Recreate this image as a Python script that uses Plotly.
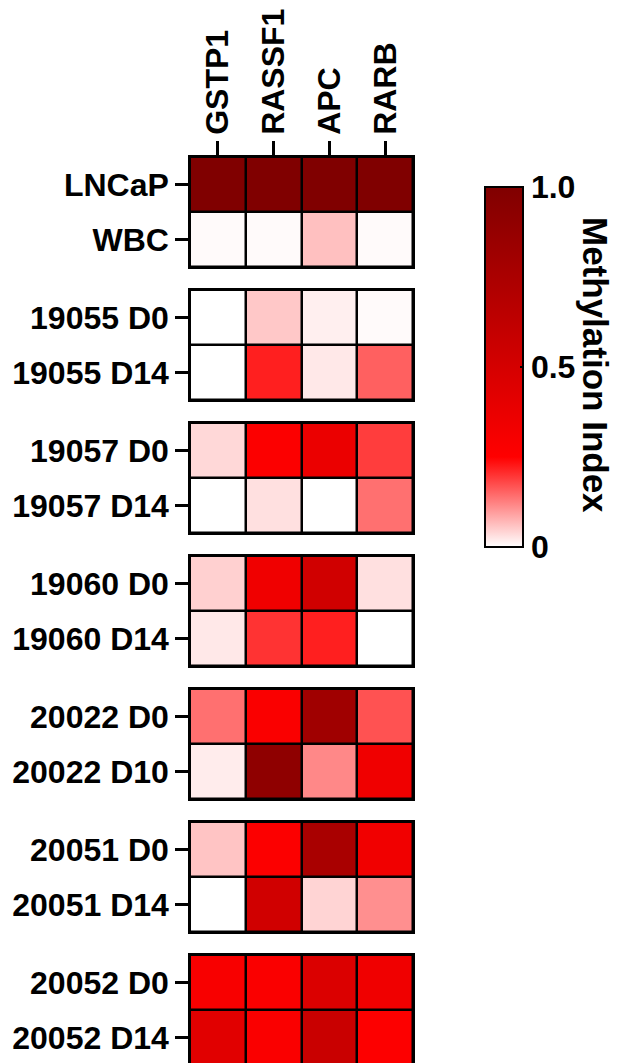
import plotly.graph_objects as go

genes = ["GSTP1", "RASSF1", "APC", "RARB"]
groups = [
    ["LNCaP", "WBC"],
    ["19055 D0", "19055 D14"],
    ["19057 D0", "19057 D14"],
    ["19060 D0", "19060 D14"],
    ["20022 D0", "20022 D10"],
    ["20051 D0", "20051 D14"],
    ["20052 D0", "20052 D14"],
]
values = [
    [[1.00, 1.00, 1.00, 1.00], [0.005, 0.005, 0.062, 0.005]],
    [[0.00, 0.054, 0.016, 0.005], [0.00, 0.22, 0.023, 0.156]],
    [[0.038, 0.27, 0.37, 0.19], [0.00, 0.03, 0.00, 0.14]],
    [[0.046, 0.34, 0.53, 0.03], [0.023, 0.20, 0.22, 0.00]],
    [[0.14, 0.28, 0.81, 0.17], [0.019, 0.91, 0.117, 0.34]],
    [[0.058, 0.27, 0.76, 0.33], [0.00, 0.53, 0.042, 0.11]],
    [[0.29, 0.28, 0.46, 0.34], [0.43, 0.28, 0.57, 0.26]],
]
cbar_ticks = [0, 0.5, 1.0]
cbar_labels = ["0", "0.5", "1.0"]

W, H = 634, 1063
OFF = 8  # page body margin
FONT = "Liberation Sans, Arial, sans-serif"


def px_x(v):
    return (v - OFF) / W


def px_y(v):
    return 1 - (v - OFF) / H


x_dom = [px_x(190), px_x(413)]
group_top_px = 157
group_pitch_px = 133
group_h_px = 110

fig = go.Figure()
layout_axes = {}
for g, (rows, vals) in enumerate(zip(groups, values)):
    idx = g + 1
    sfx = "" if idx == 1 else str(idx)
    top = group_top_px + group_pitch_px * g
    bot = top + group_h_px
    y_dom = [px_y(bot), px_y(top)]
    fig.add_trace(go.Heatmap(
        z=vals, x=list(range(len(genes))), y=list(range(len(rows))),
        coloraxis="coloraxis", xgap=2.5, ygap=2.5,
        xaxis="x" + sfx, yaxis="y" + sfx, hoverinfo="skip",
    ))
    xa = dict(
        domain=x_dom, anchor="y" + sfx, range=[-0.5, 3.5],
        showline=True, linecolor="black", linewidth=1.5,
        mirror=True, side="top", showgrid=False, zeroline=False,
        tickvals=list(range(len(genes))), ticktext=genes,
        fixedrange=True,
    )
    if g == 0:
        xa.update(ticks="outside", ticklen=14, tickwidth=2.5, tickcolor="black",
                  tickangle=-90, showticklabels=True,
                  tickfont=dict(family=FONT, size=32, color="black", weight="bold"))
    else:
        xa.update(ticks="", showticklabels=False)
    ya = dict(
        domain=y_dom, anchor="x" + sfx, range=[1.5, -0.5],
        showline=True, linecolor="black", linewidth=1.5, mirror=True,
        showgrid=False, zeroline=False,
        tickvals=list(range(len(rows))), ticktext=rows,
        ticks="outside", ticklen=13, tickwidth=2.5, tickcolor="black",
        tickfont=dict(family=FONT, size=32, color="black", weight="bold"),
        fixedrange=True,
    )
    layout_axes["xaxis" + sfx] = xa
    layout_axes["yaxis" + sfx] = ya

fig.update_layout(**layout_axes)
fig.update_layout(
    width=W, height=H,
    margin=dict(l=0, r=0, t=0, b=0),
    paper_bgcolor="white", plot_bgcolor="black",
    showlegend=False,
    coloraxis=dict(
        cmin=0, cmax=1,
        colorscale=[[0, "#FFFFFF"], [0.25, "#FF0000"], [1, "#800000"]],
        colorbar=dict(
            x=px_x(485), xanchor="left", xpad=0, ypad=0,
            y=px_y(367), yanchor="middle", len=360 / H, lenmode="fraction",
            thickness=38, outlinewidth=2, outlinecolor="black",
            tickvals=cbar_ticks, ticktext=cbar_labels,
            ticks="inside", ticklen=4, tickwidth=2, tickcolor="black",
            tickfont=dict(family=FONT, size=32, color="black", weight="bold"),
        ),
    ),
    annotations=[dict(
        text="Methylation Index", x=px_x(596), y=px_y(365),
        xref="paper", yref="paper", showarrow=False, textangle=90,
        xanchor="center", yanchor="middle",
        font=dict(family=FONT, size=35, color="black", weight="bold"),
    )],
)

fig.write_html("out.html")
